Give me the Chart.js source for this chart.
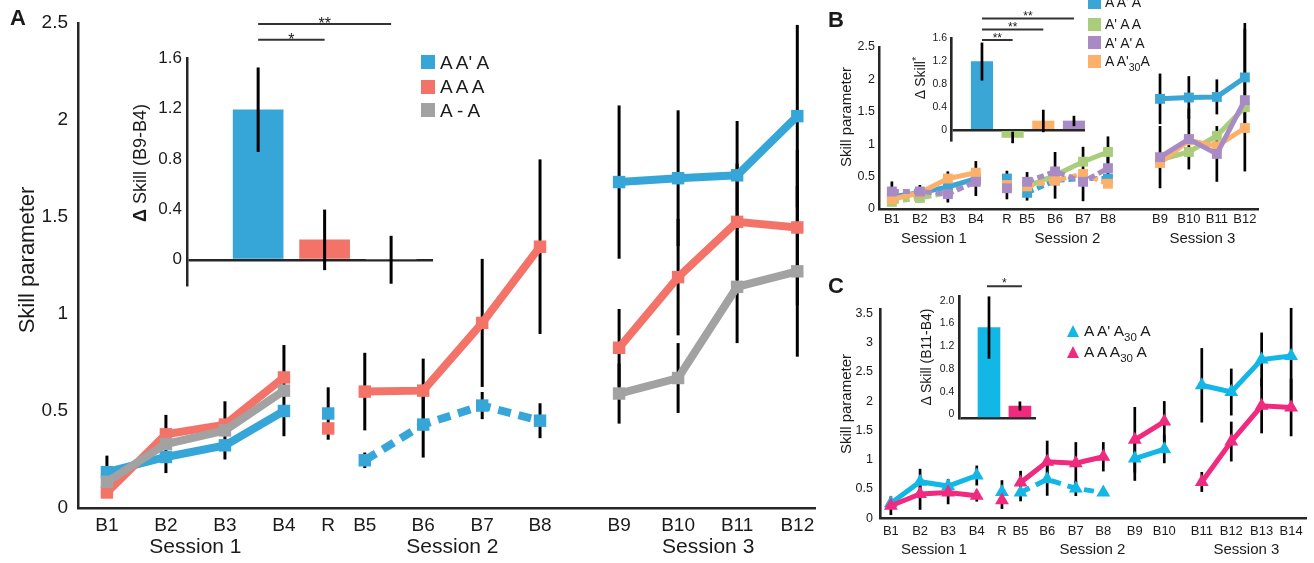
<!DOCTYPE html>
<html>
<head>
<meta charset="utf-8">
<script src="https://cdn.jsdelivr.net/npm/chart.js@4.4.1/dist/chart.umd.min.js"></script>
<style>
html,body{margin:0;padding:0;background:#fff;}
#wrap{position:relative;width:1314px;height:563px;overflow:hidden;font-family:"Liberation Sans",Arial,Helvetica,sans-serif;color:#1a1a1a;}
canvas{position:absolute;left:0;top:0;pointer-events:none;}
.pl{position:absolute;font-weight:bold;font-size:22px;line-height:1;}
.vt{position:absolute;transform:translate(-50%,-50%) rotate(-90deg);white-space:nowrap;line-height:1;}
.leg{position:absolute;display:flex;align-items:center;white-space:nowrap;line-height:1;}
.sq{display:inline-block;flex:none;}
.tri{display:inline-block;flex:none;width:0;height:0;border-left:6.5px solid transparent;border-right:6.5px solid transparent;}
.sub{position:relative;}
</style>
</head>
<body>
<div id="wrap">
<canvas id="cA" width="1314" height="563"></canvas>
<canvas id="cAi" width="1314" height="563"></canvas>
<canvas id="cB" width="1314" height="563"></canvas>
<canvas id="cBi" width="1314" height="563"></canvas>
<canvas id="cC" width="1314" height="563"></canvas>
<canvas id="cCi" width="1314" height="563"></canvas>

<div class="pl" style="left:10px;top:7px">A</div>
<div class="pl" style="left:828px;top:9px">B</div>
<div class="pl" style="left:828px;top:275px">C</div>

<div class="vt" style="left:27px;top:260px;font-size:22px">Skill parameter</div>
<div class="vt" style="left:140px;top:163px;font-size:18px"><b>Δ</b> Skill (B9-B4)</div>
<div class="vt" style="left:845px;top:117px;font-size:15px">Skill parameter</div>
<div class="vt" style="left:919px;top:78px;font-size:14px">Δ Skill<sup style="font-size:11px">*</sup></div>
<div class="vt" style="left:845px;top:404px;font-size:15px">Skill parameter</div>
<div class="vt" style="left:926px;top:357px;font-size:14px">Δ Skill (B11-B4)</div>

<div id="legA"></div>
<div id="legB"></div>
<div id="legC"></div>
</div>

<script>
// ---------------- DATA ----------------
// Panel A
const catsA = ['B1','B2','B3','B4','R','B5','B6','B7','B8','B9','B10','B11','B12'];
const sessionsA = ['Session 1','Session 2','Session 3'];
const yTicksA = [0, 0.5, 1, 1.5, 2, 2.5];
const yTickLabelsA = ['0','0.5','1','1.5','2','2.5'];
const seriesNamesA = ["A A' A", 'A A A', 'A - A'];
const a_AApA     = [0.185,0.263,0.323,0.50,0.487,0.246,0.43,0.528,0.45,1.68,1.70,1.715,2.02];
const a_AApA_err = [0.085,null,null,null,0.135,0.04,0.17,0.07,0.09,0.395,0.35,0.28,0.47];
const a_AAA      = [0.08,0.38,0.43,0.673,0.41,0.60,0.605,0.954,1.347,0.826,1.19,1.475,1.446];
const a_AAA_err  = [null,null,null,null,null,0.20,0.165,0.33,0.45,0.20,0.30,0.30,0.40];
const a_AdA      = [0.135,0.33,0.40,0.605,null,null,null,null,null,0.59,0.67,1.14,1.22];
const a_AdA_err  = [null,0.15,0.15,0.235,null,null,null,null,null,0.155,0.18,0.29,0.44];
// Inset A
const insetA_vals = [1.19, 0.158, 0];
const insetA_err  = [0.335, 0.24, 0.19];
const insetA_yTicks = [0, 0.4, 0.8, 1.2, 1.6];
const insetA_yLabels = ['0','0.4','0.8','1.2','1.6'];
const insetA_sig = [{from:0,to:1,text:'*'},{from:0,to:2,text:'**'}];

// Panel B
const catsB = ['B1','B2','B3','B4','R','B5','B6','B7','B8','B9','B10','B11','B12'];
const sessionsB = ['Session 1','Session 2','Session 3'];
const yTicksB = [0, 0.5, 1, 1.5, 2, 2.5];
const yTickLabelsB = ['0','0.5','1','1.5','2','2.5'];
const seriesNamesB = ["A A' A", "A' A A", "A' A' A", "A A'30 A"];
const b_AApA      = [0.19,0.25,0.34,0.47,0.47,0.25,0.44,0.47,0.47,1.70,1.72,1.73,2.03];
const b_AApA_err  = [null,null,0.24,0.27,null,null,null,null,null,0.39,0.33,0.27,0.84];
const b_ApAA      = [0.11,0.17,0.25,0.45,0.35,0.35,0.52,0.73,0.88,0.76,0.88,1.13,1.57];
const b_ApAA_err  = [null,null,null,null,null,0.22,0.36,null,0.24,null,null,null,null];
const b_ApApA     = [0.27,0.27,0.23,0.42,0.32,0.42,0.58,0.42,0.63,0.80,1.08,0.85,1.68];
const b_ApApA_err = [0.155,0.10,null,null,null,null,null,null,0.20,0.48,0.47,0.43,1.10];
const b_AAp30A    = [0.15,0.25,0.47,0.56,0.37,0.35,0.44,0.54,0.39,0.71,1.06,0.97,1.25];
const b_AAp30A_err= [null,null,null,null,0.22,null,null,0.42,null,null,null,null,null];
// Inset B (order: A A' A, A' A A, A A'30 A, A' A' A)
const insetB_vals = [1.19, -0.13, 0.157, 0.157];
const insetB_err  = [0.33, 0.10, 0.195, 0.09];
const insetB_yTicks = [0, 0.4, 0.8, 1.2, 1.6];
const insetB_yLabels = ['0','0.4','0.8','1.2','1.6'];
const insetB_sig = [{from:0,to:1,text:'**'},{from:0,to:2,text:'**'},{from:0,to:3,text:'**'}];

// Panel C
const catsC = ['B1','B2','B3','B4','R','B5','B6','B7','B8','B9','B10','B11','B12','B13','B14'];
const sessionsC = ['Session 1','Session 2','Session 3'];
const yTicksC = [0, 0.5, 1, 1.5, 2, 2.5, 3, 3.5];
const yTickLabelsC = ['0','0.5','1','1.5','2','2.5','3','3.5'];
const c_AApA30A     = [0.256,0.625,0.55,0.73,0.45,0.44,0.665,0.51,0.44,1.02,1.18,2.27,2.155,2.71,2.77];
const c_AApA30A_err = [null,0.22,0.12,0.17,0.20,0.15,0.28,0.13,null,0.38,0.24,0.635,0.40,0.46,0.82];
const c_AAA30A      = [0.215,0.415,0.44,0.385,0.31,0.61,0.965,0.94,1.05,1.34,1.65,0.62,1.31,1.92,1.89];
const c_AAA30A_err  = [0.16,0.27,0.20,0.10,0.15,0.20,0.36,0.36,0.25,0.56,0.35,0.17,0.34,0.47,0.49];
// Inset C
const insetC_vals = [1.60, 0.217];
const insetC_err  = [0.55, 0.08];
const insetC_yTicks = [0, 0.4, 0.8, 1.2, 1.6, 2.0];
const insetC_yLabels = ['0','0.4','0.8','1.2','1.6','2.0'];
const insetC_sig = [{from:0,to:1,text:'*'}];

// ---------------- LAYOUT / STYLE ----------------
const W = 1314, H = 563;
const TXT = '#1a1a1a', AX = '#262626', ERR = '#000';
const COL = {
  blueA:'#36A6D8', redA:'#F47369', grayA:'#A2A2A2',
  blue:'#3AA6D6', green:'#A9CD7A', purple:'#A88BC4', orange:'#FDB06A',
  cyan:'#12B7E6', pink:'#EF2A7F'
};
// category slot positions on the x axes (layout of the axis, not data)
const slotA = [1,2,3,4,4.75,5.37,6.36,7.36,8.34,9.68,10.68,11.68,12.70];
const slotB = [1,2,3,4,5.11,5.83,6.83,7.83,8.72,10.58,11.61,12.61,13.61];
const slotC = [1,2.02,3,4,4.88,5.53,6.46,7.46,8.42,9.52,10.55,11.86,12.89,13.95,14.98];
// line-connection groups (0 = standalone point)
const groupsAB = [1,1,1,1,0,2,2,2,2,3,3,3,3];
const groupsC  = [1,1,1,1,0,2,2,2,2,3,3,4,4,4,4];
const sessRangesAB = [[0,3],[5,8],[9,12]];
const sessRangesC  = [[0,3],[5,10],[11,14]];

Chart.defaults.font.family = '"Liberation Sans", Arial, Helvetica, sans-serif';
Chart.defaults.color = TXT;
Chart.defaults.animation = false;
Chart.defaults.events = [];
Chart.defaults.plugins.legend.display = false;
Chart.defaults.plugins.tooltip.enabled = false;

function drawErr(chart, o) {
  const ctx = chart.ctx, xs = chart.scales.x, ys = chart.scales.y;
  ctx.save();
  ctx.strokeStyle = o.color || ERR; ctx.lineWidth = o.width || 2; ctx.lineCap = 'butt';
  chart.data.datasets.forEach(ds => {
    if (!ds.errors) return;
    ds.data.forEach((d, i) => {
      const e = ds.errors[i];
      if (e == null || d.y == null) return;
      const px = xs.getPixelForValue(d.x);
      ctx.beginPath();
      ctx.moveTo(px, ys.getPixelForValue(d.y + e));
      ctx.lineTo(px, ys.getPixelForValue(d.y - e));
      ctx.stroke();
    });
  });
  ctx.restore();
}
const errorPlugin = {
  id: 'errorBars',
  beforeDatasetsDraw(chart, a, o) { if (!o.onTop) drawErr(chart, o); },
  afterDatasetsDraw(chart, a, o) { if (o.onTop) drawErr(chart, o); }
};
const sigPlugin = {
  id: 'sig',
  afterDatasetsDraw(chart, a, o) {
    if (!o.items) return;
    const ctx = chart.ctx, xs = chart.scales.x, ys = chart.scales.y;
    ctx.save();
    ctx.strokeStyle = '#333'; ctx.lineWidth = o.width; ctx.fillStyle = TXT;
    ctx.font = o.fontSize + 'px "Liberation Sans", Arial, sans-serif';
    ctx.textAlign = 'center'; ctx.textBaseline = 'alphabetic';
    o.items.forEach((it, k) => {
      const x0 = xs.getPixelForValue(it.from) - (o.ext || 0);
      const x1 = xs.getPixelForValue(it.to) + (o.ext || 0);
      const yy = ys.getPixelForValue(o.levels[k]);
      ctx.beginPath(); ctx.moveTo(x0, yy); ctx.lineTo(x1, yy); ctx.stroke();
      ctx.fillText(it.text, (x0 + x1) / 2, yy + o.dy);
    });
    ctx.restore();
  }
};

function buildLine(id, L, D) {
  const sessCenters = D.sessRanges.map(([a, b]) => (D.pos[a] + D.pos[b]) / 2);
  const datasets = D.series.map(s => ({
    data: s.vals.map((v, i) => ({x: D.pos[i], y: v})),
    errors: s.errs,
    borderColor: s.color, backgroundColor: s.color,
    pointBackgroundColor: s.color, pointBorderColor: s.color, pointBorderWidth: 0,
    pointStyle: L.pointStyle, pointRadius: L.radius, pointHoverRadius: L.radius,
    borderWidth: L.lw, tension: 0, spanGaps: false, order: s.order, clip: false,
    borderCapStyle: 'butt', borderJoinStyle: 'miter',
    segment: {
      borderColor: c => {
        const g0 = D.groups[c.p0DataIndex], g1 = D.groups[c.p1DataIndex];
        return (g0 === 0 || g0 !== g1) ? 'rgba(0,0,0,0)' : undefined;
      },
      borderDash: c => s.dashed.includes(D.groups[c.p0DataIndex]) ? L.dash : undefined
    }
  }));
  return new Chart(document.getElementById(id), {
    type: 'line',
    data: {datasets},
    options: {
      responsive: false, devicePixelRatio: 1, maintainAspectRatio: false,
      layout: {padding: {left: L.left - L.yW, top: L.top, right: W - L.right, bottom: H - L.bottom - L.xH - L.x2H}},
      scales: {
        x: {
          type: 'linear', position: 'bottom', weight: 0, min: L.xMin, max: L.xMax,
          afterBuildTicks: s => { s.ticks = D.pos.map(v => ({value: v})); },
          afterFit: s => { s.height = L.xH; },
          grid: {display: false, drawTicks: false},
          border: {display: true, color: AX, width: L.axisW},
          ticks: {autoSkip: false, maxRotation: 0, minRotation: 0, padding: L.xPad, color: TXT,
                  font: {size: L.xFont}, callback: (v, i) => D.cats[i]}
        },
        x2: {
          type: 'linear', position: 'bottom', weight: 1, min: L.xMin, max: L.xMax,
          afterBuildTicks: s => { s.ticks = sessCenters.map(v => ({value: v})); },
          afterFit: s => { s.height = L.x2H; },
          grid: {display: false, drawTicks: false},
          border: {display: false},
          ticks: {autoSkip: false, maxRotation: 0, minRotation: 0, padding: L.sPad, color: TXT,
                  font: {size: L.sFont}, callback: (v, i) => D.sessions[i]}
        },
        y: {
          min: L.yMin, max: L.yMax,
          afterBuildTicks: s => { s.ticks = D.yTicks.map(v => ({value: v})); },
          afterFit: s => { s.width = L.yW; },
          grid: {display: false, drawTicks: false},
          border: {display: true, color: AX, width: L.axisW},
          ticks: {autoSkip: false, padding: L.yPad, color: TXT, font: {size: L.yFont},
                  callback: (v, i) => D.yLabels[i]}
        }
      },
      plugins: {errorBars: {width: L.errW, onTop: false}}
    },
    plugins: [errorPlugin]
  });
}

function buildInset(id, L, D) {
  return new Chart(document.getElementById(id), {
    type: 'bar',
    data: {datasets: [{
      data: D.vals.map((v, i) => ({x: i, y: v})),
      errors: D.errs, backgroundColor: D.colors, borderWidth: 0, barThickness: L.barW
    }]},
    options: {
      responsive: false, devicePixelRatio: 1, maintainAspectRatio: false,
      layout: {padding: {left: L.left - L.yW, top: L.top, right: W - L.right, bottom: H - L.bottom}},
      scales: {
        x: {type: 'linear', display: false, min: L.xMin, max: L.xMax, offset: false},
        y: {
          min: L.yMin, max: L.yMax,
          afterBuildTicks: s => { s.ticks = D.yTicks.map(v => ({value: v})); },
          afterFit: s => { s.width = L.yW; },
          grid: {display: true, drawTicks: false, lineWidth: L.axisW,
                 color: c => (c.tick && c.tick.value === 0) ? AX : 'rgba(0,0,0,0)'},
          border: {display: true, color: AX, width: L.axisW},
          ticks: {autoSkip: false, padding: L.yPad, color: TXT, font: {size: L.yFont},
                  labelOffset: L.labelOffset || 0, callback: (v, i) => D.yLabels[i]}
        }
      },
      plugins: {
        errorBars: {width: L.errW, onTop: true},
        sig: {items: D.sig, levels: L.sigLevels, width: L.sigW, fontSize: L.sigFont, dy: L.sigDy, ext: L.sigExt || 0}
      }
    },
    plugins: [errorPlugin, sigPlugin]
  });
}

// ---------- Panel A ----------
buildLine('cA',
  {left:78, right:815, top:23, bottom:508, yW:78, xH:27, x2H:28,
   xMin:0.51, xMax:13.0, yMin:0, yMax:2.5,
   xFont:19, sFont:21, yFont:19, xPad:6, sPad:0, yPad:10, axisW:2.5,
   lw:8, radius:8.8, pointStyle:'rect', dash:[13,8], errW:3},
  {pos: slotA, cats: catsA, sessions: sessionsA, sessRanges: sessRangesAB, groups: groupsAB,
   yTicks: yTicksA, yLabels: yTickLabelsA,
   series: [
     {vals:a_AApA, errs:a_AApA_err, color:COL.blueA, dashed:[2], order:2},
     {vals:a_AAA,  errs:a_AAA_err,  color:COL.redA,  dashed:[],  order:1},
     {vals:a_AdA,  errs:a_AdA_err,  color:COL.grayA, dashed:[],  order:0}
   ]});
buildInset('cAi',
  {left:187, right:433, top:58, bottom:285, yW:60, xMin:-1.07, xMax:2.63, yMin:-0.2, yMax:1.6,
   yFont:17, yPad:5, axisW:2.5, barW:50, errW:3,
   sigLevels:[1.745, 1.87], sigW:2, sigFont:16, sigDy:5},
  {vals: insetA_vals, errs: insetA_err, colors:[COL.blueA, COL.redA, COL.grayA],
   yTicks: insetA_yTicks, yLabels: insetA_yLabels, sig: insetA_sig});

// ---------- Panel B ----------
buildLine('cB',
  {left:879, right:1258, top:47, bottom:209, yW:50, xH:20, x2H:22,
   xMin:0.54, xMax:14.08, yMin:0, yMax:2.5,
   xFont:13, sFont:15, yFont:12.5, xPad:2.5, sPad:1, yPad:4, axisW:2.5,
   lw:5, radius:7, pointStyle:'rect', dash:[7,4], errW:2.7},
  {pos: slotB, cats: catsB, sessions: sessionsB, sessRanges: sessRangesAB, groups: groupsAB,
   yTicks: yTicksB, yLabels: yTickLabelsB,
   series: [
     {vals:b_ApAA,   errs:b_ApAA_err,   color:COL.green,  dashed:[1],   order:3},
     {vals:b_AApA,   errs:b_AApA_err,   color:COL.blue,   dashed:[2],   order:2},
     {vals:b_AAp30A, errs:b_AAp30A_err, color:COL.orange, dashed:[2],   order:1},
     {vals:b_ApApA,  errs:b_ApApA_err,  color:COL.purple, dashed:[1,2], order:0}
   ]});
buildInset('cBi',
  {left:951, right:1085, top:38, bottom:140, yW:40, xMin:-1.01, xMax:3.36, yMin:-0.174, yMax:1.6,
   yFont:10.5, yPad:4, axisW:2.6, barW:21.5, errW:2.7,
   sigLevels:[1.565, 1.75, 1.94], sigW:2, sigFont:12, sigDy:2},
  {vals: insetB_vals, errs: insetB_err, colors:[COL.blue, COL.green, COL.orange, COL.purple],
   yTicks: insetB_yTicks, yLabels: insetB_yLabels, sig: insetB_sig});

// ---------- Panel C ----------
buildLine('cC',
  {left:880, right:1313, top:309.3, bottom:518.3, yW:50, xH:22, x2H:22.7,
   xMin:0.62, xMax:15.5, yMin:0, yMax:3.567,
   xFont:13, sFont:15, yFont:12.5, xPad:5.6, sPad:0.7, yPad:7, axisW:2.6,
   lw:5, radius:8, pointStyle:'triangle', dash:[10,7], errW:2.7},
  {pos: slotC, cats: catsC, sessions: sessionsC, sessRanges: sessRangesC, groups: groupsC,
   yTicks: yTicksC, yLabels: yTickLabelsC,
   series: [
     {vals:c_AApA30A, errs:c_AApA30A_err, color:COL.cyan, dashed:[2], order:1},
     {vals:c_AAA30A,  errs:c_AAA30A_err,  color:COL.pink, dashed:[],  order:0}
   ]});
buildInset('cCi',
  {left:959.3, right:1036, top:296, bottom:418.3, yW:40, xMin:-0.96, xMax:1.52, yMin:0, yMax:2.157,
   yFont:10.5, yPad:5, axisW:2.6, barW:22, errW:2.7, labelOffset:-4,
   sigLevels:[2.33], sigW:2, sigFont:12, sigDy:1, sigExt:2},
  {vals: insetC_vals, errs: insetC_err, colors:[COL.cyan, COL.pink],
   yTicks: insetC_yTicks, yLabels: insetC_yLabels, sig: insetC_sig});

// ---------- Legends (HTML) ----------
function legRows(containerId, rows) {
  const c = document.getElementById(containerId);
  rows.forEach(r => {
    const d = document.createElement('div');
    d.className = 'leg';
    d.style.left = r.left + 'px'; d.style.top = r.top + 'px';
    d.style.height = r.h + 'px'; d.style.fontSize = r.fs + 'px';
    const m = document.createElement('span');
    if (r.tri) {
      m.className = 'tri'; m.style.borderBottom = '12px solid ' + r.color;
    } else {
      m.className = 'sq'; m.style.background = r.color;
      m.style.width = r.sq + 'px'; m.style.height = r.sq + 'px';
    }
    m.style.marginRight = r.gap + 'px';
    d.appendChild(m);
    const t = document.createElement('span');
    t.innerHTML = r.html;
    d.appendChild(t);
    c.appendChild(d);
  });
}
const esc = s => s.replace(/'/g, '&#39;');
legRows('legA', seriesNamesA.map((n, i) => ({
  left:421, top:[52, 76.5, 100][i], h:20, fs:19, sq:14, gap:5,
  color:[COL.blueA, COL.redA, COL.grayA][i], html: esc(n)})));
legRows('legB', seriesNamesB.map((n, i) => ({
  left:1088, top:[-6, 16, 34.5, 53][i], h:16, fs:14, sq:13, gap:4,
  color:[COL.blue, COL.green, COL.purple, COL.orange][i],
  html: i === 3 ? "A A&#39;" + '<span class="sub" style="font-size:10.5px;top:5px">30</span>A' : esc(n)})));
legRows('legC', [
  {left:1066.5, top:322, h:18, fs:15.5, tri:true, gap:5.5, color:COL.cyan,
   html:"A A&#39; A<span class=\"sub\" style=\"font-size:11.5px;top:5px\">30</span> A"},
  {left:1066.5, top:343, h:18, fs:15.5, tri:true, gap:5.5, color:COL.pink,
   html:"A A A<span class=\"sub\" style=\"font-size:11.5px;top:5px\">30</span> A"}
]);
</script>
</body>
</html>
